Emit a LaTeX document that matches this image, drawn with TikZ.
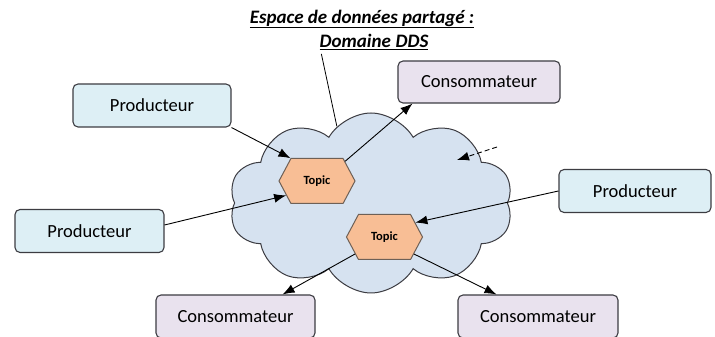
\documentclass[tikz,border=0pt]{standalone}
\usepackage{fontspec}
\setmainfont{Carlito}
\usetikzlibrary{shapes.symbols,arrows.meta}
\begin{document}
\begin{tikzpicture}[x=1pt,y=1pt]
\definecolor{drawColor}{RGB}{60,60,66}
\definecolor{prodColor}{RGB}{221,239,245}
\definecolor{consColor}{RGB}{233,226,238}
\definecolor{cloudColor}{RGB}{214,226,240}
\definecolor{topicColor}{RGB}{248,190,149}
\definecolor{topicLine}{RGB}{110,96,86}
\tikzset{
  box/.style={draw=drawColor,line width=1.1pt,rounded corners=5pt,minimum height=43pt,inner sep=0pt,font=\fontsize{18.5}{22}\selectfont},
  prod/.style={box,fill=prodColor},
  cons/.style={box,fill=consColor},
  topic/.style={signal,signal to=west and east,signal pointer angle=124,draw=topicLine,fill=topicColor,line width=1pt,minimum width=76pt,minimum height=45pt,inner sep=0pt,font=\fontsize{12.5}{15}\bfseries\selectfont},
  arr/.style={-{Latex[length=12pt,width=9pt]},line width=0.9pt,draw=black},
  titre/.style={inner sep=0pt,font=\fontsize{19}{22}\bfseries\itshape\selectfont}
}
\useasboundingbox (0,0) rectangle (715,337);

\node[titre] (title1) at (362,318) {\underline{Espace de données partagé :}};
\node[titre] (title2) at (374,295) {\underline{Domaine\hspace{0.25em}DDS}};

\node[cloud,cloud puffs=10,cloud puff arc=120,cloud ignores aspect,draw=drawColor,fill=cloudColor,line width=1pt,minimum width=284pt,minimum height=180pt] (cloud) at (371,134) {};

\node[topic] (topic1) at (317,156) {Topic};
\node[topic] (topic2) at (384.5,100) {Topic};

\node[prod,minimum width=158pt] (prodA) at (152,231.5) {Producteur};
\node[prod,minimum width=149pt] (prodB) at (89.5,106) {Producteur};
\node[prod,minimum width=152pt] (prodC) at (635,146) {Producteur};
\node[cons,minimum width=162pt,minimum height=42pt] (consA) at (479,255) {Consommateur};
\node[cons,minimum width=159pt] (consB) at (235.5,20.5) {Consommateur};
\node[cons,minimum width=160pt] (consC) at (538,20.5) {Consommateur};

\coordinate (dashA) at (497,190);
\coordinate (dashB) at (457,177);

\draw[line width=0.8pt] ([xshift=2pt,yshift=-4pt]title2.south west) -- (cloud.114);
\draw[arr] ([yshift=-5pt]prodA.east |- prodA.south east) ++(0,5) -- (topic1.north west);
\draw[arr] ([yshift=6pt]prodB.east) -- (topic1.205);
\draw[arr] (topic1.35) -- ([xshift=15pt]consA.south west);
\draw[arr] (prodC.west) -- (topic2.25);
\draw[arr] (topic2.210) -- ([xshift=-33pt]consB.north east);
\draw[arr] (topic2.-30) -- ([xshift=39pt]consC.north west);
\draw[arr,dash pattern=on 5pt off 3pt] (dashA) -- (dashB);
\end{tikzpicture}
\end{document}
